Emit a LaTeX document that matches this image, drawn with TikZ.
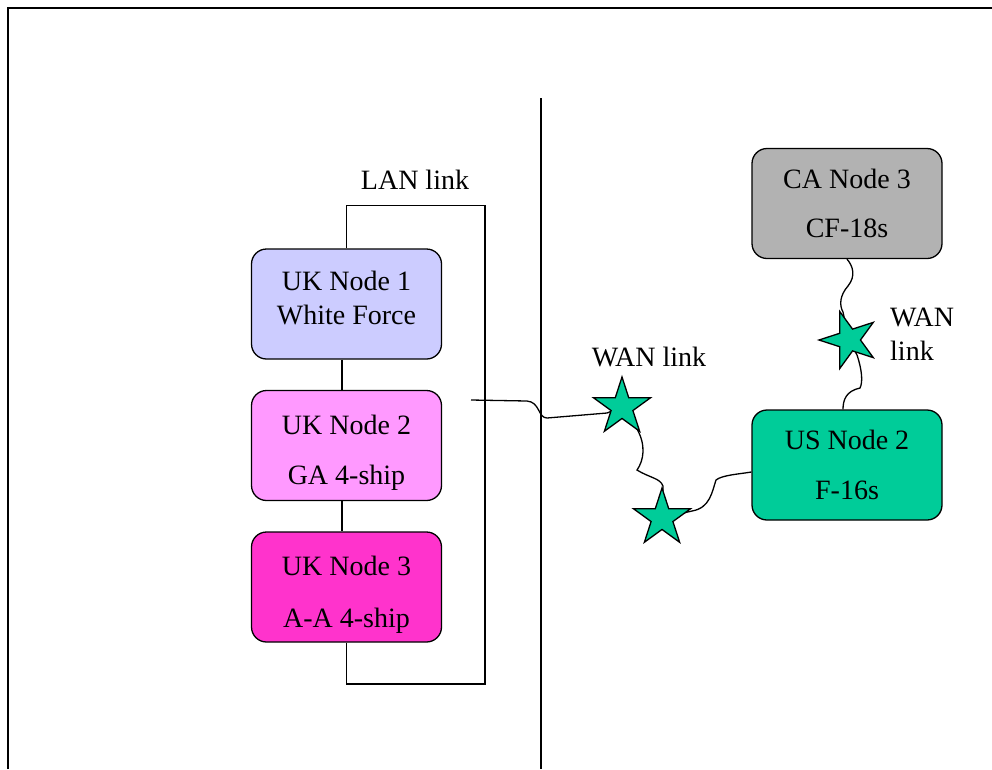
\documentclass[tikz,border=0pt]{standalone}
\usepackage{fontspec}
\setmainfont{Liberation Serif}
\usetikzlibrary{shapes.geometric,backgrounds}
\definecolor{ukone}{HTML}{CCCCFF}
\definecolor{uktwo}{HTML}{FF99FF}
\definecolor{ukthree}{HTML}{FF33CC}
\definecolor{usgreen}{HTML}{00CC99}
\definecolor{cagray}{HTML}{B2B2B2}
\begin{document}
\begin{tikzpicture}[x=1pt,y=-1pt,
  box/.style={draw,line width=1.3pt,rounded corners=15pt,minimum width=190pt,
    minimum height=110pt,align=center,inner sep=0pt,font=\fontsize{28}{33}\selectfont},
  wanstar/.style={star,star points=5,star point ratio=2.618,draw,line width=1.3pt,
    fill=usgreen,minimum size=60pt,inner sep=0pt},
  link/.style={line width=1.3pt},
  lbl/.style={font=\fontsize{28}{33}\selectfont,inner sep=0pt}]
\useasboundingbox (0,0) rectangle (992,769);
% frame and divider
\draw[line width=2pt] (8,769) -- (8,8) -- (992,8);
\draw[link] (541,98) -- (541,769);
% nodes
\node[box,fill=ukone]   (uk1) at (346.5,304) {UK Node 1\\[1pt]White Force\rule[-12pt]{0pt}{12pt}};
\node[box,fill=uktwo]   (uk2) at (346.5,445.5) {\rule{0pt}{33pt}UK Node 2\\[17pt]GA 4-ship};
\node[box,fill=ukthree] (uk3) at (346.5,587) {\rule{0pt}{35pt}UK Node 3\\[19pt]A-A 4-ship};
\node[box,fill=cagray]  (ca)  at (847,203.5) {CA Node 3\\[16pt]CF-18s};
\node[box,fill=usgreen] (us)  at (847,465) {US Node 2\\[17pt]F-16s};
\node[wanstar] (s1) at (622,407) {};
\node[wanstar] (s2) at (662,518) {};
\node[wanstar,rotate=18] (s3) at (849,340) {};
\coordinate (wanstart) at (471,400);
% labels
\node[lbl] (lan) at (415,180) {LAN link};
\node[lbl] (wan1) at (649,357) {WAN link};
\node[lbl,align=left,anchor=west] (wan2) at (890,334) {WAN\\[1pt]link};
% connectors
\begin{pgfonlayer}{background}
\draw[link] ([xshift=-4.5pt]uk1.south) -- ([xshift=-4.5pt]uk2.north);
\draw[link] ([xshift=-4.5pt]uk2.south) -- ([xshift=-4.5pt]uk3.north);
\draw[link] (uk1.north) -- ++(0,-43) -| (485,684) -| (uk3.south);
\draw[link] (wanstart) -- (527,401) .. controls (540,402) and (538,418) .. (547,418)
  -- (607,413) -- (s1.center);
\draw[link] (s1.center) -- (637,429) .. controls (646,445) and (644,460) .. (637,470)
  .. controls (650,478) and (660,478) .. (663,486) -- (s2.center);
\draw[link] (s2.center) -- (692,511) .. controls (710,508) and (712,492) .. (716,480)
  .. controls (722,475) and (740,474) .. ([yshift=-7pt]us.west);
\draw[link] (ca.south) .. controls (853,266) and (856,276) .. (848,286)
  .. controls (840,295) and (839,305) .. (843,312) -- (s3.center);
\draw[link] (s3.center) -- (857,355) .. controls (862,370) and (863,382) .. (860,388)
  .. controls (846,391) and (843,400) .. ([xshift=-4pt]us.north);
\end{pgfonlayer}
\end{tikzpicture}
\end{document}
